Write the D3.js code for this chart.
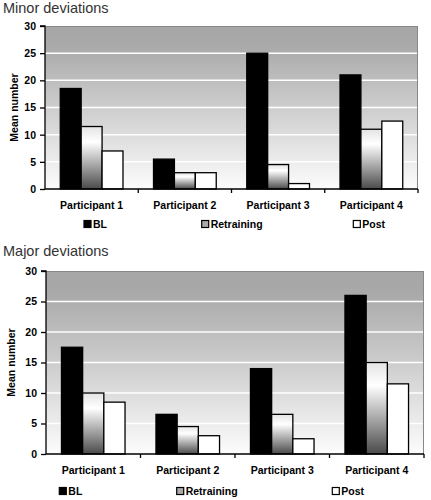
<!DOCTYPE html>
<html><head><meta charset="utf-8">
<script src="https://cdn.jsdelivr.net/npm/d3@7/dist/d3.min.js"></script>
<style>body{margin:0;background:#fff}svg{display:block}</style>
</head><body>
<svg id="c" width="431" height="500"></svg>
<script>
const categories = ["Participant 1","Participant 2","Participant 3","Participant 4"];
const seriesNames = ["BL","Retraining","Post"];
const yTicks = [0,5,10,15,20,25,30];
const minorBL = [18.5, 5.5, 25, 21];
const minorRetraining = [11.5, 3, 4.5, 11];
const minorPost = [7, 3, 1, 12.5];
const majorBL = [17.5, 6.5, 14, 26];
const majorRetraining = [10, 4.5, 6.5, 15];
const majorPost = [8.5, 3, 2.5, 11.5];
const titles = ["Minor deviations","Major deviations"];
const yTitle = "Mean number";

const svg = d3.select("#c");
const defs = svg.append("defs");
const bg = defs.append("linearGradient").attr("id","bg").attr("x1",0).attr("y1",0).attr("x2",0).attr("y2",1);
bg.append("stop").attr("offset","0%").attr("stop-color","#a6a6a6");
bg.append("stop").attr("offset","12%").attr("stop-color","#a9a9a9");
bg.append("stop").attr("offset","100%").attr("stop-color","#fcfcfc");
const rg = defs.append("linearGradient").attr("id","ret").attr("x1",0).attr("y1",0).attr("x2",0).attr("y2",1);
rg.append("stop").attr("offset","0%").attr("stop-color","#e4e4e4");
rg.append("stop").attr("offset","25%").attr("stop-color","#ffffff");
rg.append("stop").attr("offset","100%").attr("stop-color","#4a4a4a");
const fills = {"BL":"#000","Retraining":"url(#ret)","Post":"#fff"};
const font = "Liberation Sans, Arial, Helvetica, sans-serif";

const charts = [
  {title:titles[0], titleY:13, L:45, R:418, T:26, B:189, catY:209, legY:224, yTitleX:14,
   data:{BL:minorBL, Retraining:minorRetraining, Post:minorPost},
   leg:[84,201.7,353.3]},
  {title:titles[1], titleY:256, L:46, R:424, T:271, B:454, catY:474, legY:491, yTitleX:11,
   data:{BL:majorBL, Retraining:majorRetraining, Post:majorPost},
   leg:[59.3,176.7,332.3]}
];

charts.forEach(c => {
  const g = svg.append("g");
  g.append("text").attr("x",3).attr("y",c.titleY).attr("font-family",font).attr("font-size",14.5)
    .attr("fill","#333").text(c.title);
  const y = d3.scaleLinear().domain([0,30]).range([c.B,c.T]);
  const x0 = d3.scaleBand().domain(categories).range([c.L,c.R]);
  const x1 = d3.scaleBand().domain(seriesNames).range([0,x0.bandwidth()]).paddingOuter(0.73).paddingInner(0);
  g.append("rect").attr("x",c.L).attr("y",c.T).attr("width",c.R-c.L).attr("height",c.B-c.T).attr("fill","url(#bg)");
  g.selectAll(".grid").data(yTicks.filter(t=>t>0&&t<30)).enter().append("line")
    .attr("x1",c.L).attr("x2",c.R).attr("y1",d=>y(d)).attr("y2",d=>y(d))
    .attr("stroke","#fff").attr("stroke-width",1.5);
  g.append("path").attr("d",`M${c.L},${c.T+0.5}H${c.R-0.5}V${c.B}`).attr("fill","none").attr("stroke","#888").attr("stroke-width",1);
  categories.forEach((cat,i) => {
    seriesNames.forEach(s => {
      const v = c.data[s][i];
      g.append("rect").attr("x",x0(cat)+x1(s)).attr("y",y(v)).attr("width",x1.bandwidth()).attr("height",y(0)-y(v))
        .attr("fill",fills[s]).attr("stroke","#000").attr("stroke-width",1.3);
    });
  });
  const ya = d3.axisLeft(y).tickValues(yTicks).tickSize(5).tickPadding(4);
  const yg = g.append("g").attr("transform",`translate(${c.L},0)`).call(ya);
  yg.select(".domain").attr("stroke","#000").attr("stroke-width",1.3).attr("d",`M-5,${c.T}H0V${c.B}`);
  yg.selectAll(".tick line").attr("stroke","#000").attr("stroke-width",1.3);
  yg.selectAll("text").attr("font-family",font).attr("font-size",10.5).attr("font-weight","bold").attr("fill","#000");
  const xa = d3.axisBottom(x0).tickSize(0).tickPadding(0);
  const xg = g.append("g").attr("transform",`translate(0,${c.B})`).call(xa);
  xg.select(".domain").attr("stroke","#000").attr("stroke-width",1.3).attr("d",`M${c.L},0H${c.R}`);
  xg.selectAll("text").attr("font-family",font).attr("font-size",10.5).attr("font-weight","bold").attr("fill","#000")
    .attr("dy",null).attr("y",c.catY-c.B);
  categories.forEach(cat => {
    const xb = x0(cat)+x0.bandwidth();
    g.append("line").attr("x1",xb).attr("x2",xb).attr("y1",c.B).attr("y2",c.B+4).attr("stroke","#000").attr("stroke-width",1.3);
  });
  g.append("text").attr("transform",`translate(${c.yTitleX},${(c.T+c.B)/2}) rotate(-90)`).attr("text-anchor","middle")
    .attr("dy","0.35em").attr("font-family",font).attr("font-size",10.5).attr("font-weight","bold").text(yTitle);
  seriesNames.forEach((s,i) => {
    const lx = c.leg[i];
    g.append("rect").attr("x",lx).attr("y",c.legY-3.5).attr("width",7).attr("height",7)
      .attr("fill",s==="Retraining"?"#aaa":fills[s]).attr("stroke","#000").attr("stroke-width",1.2);
    g.append("text").attr("x",lx+9).attr("y",c.legY).attr("dy","0.35em").attr("font-family",font)
      .attr("font-size",10.5).attr("font-weight","bold").text(s);
  });
});
</script>
</body></html>
